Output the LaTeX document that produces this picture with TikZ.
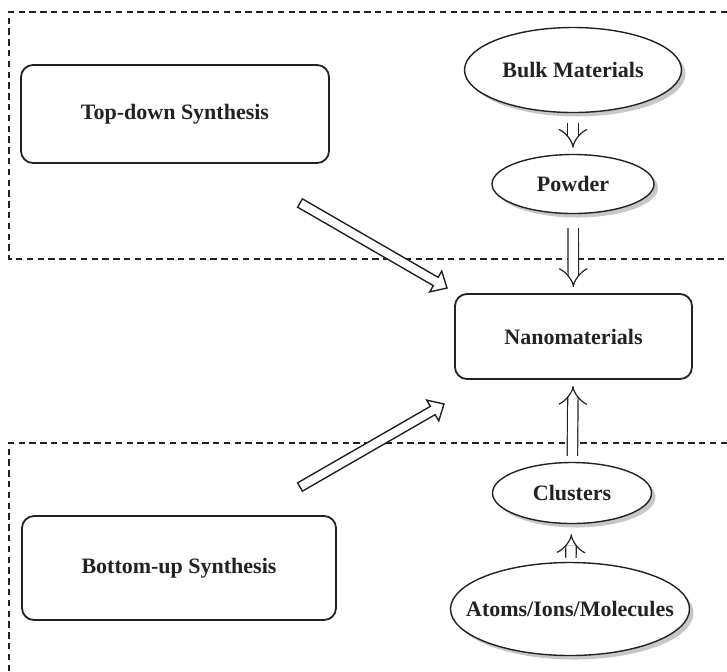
\documentclass[tikz,border=0pt]{standalone}
\usepackage{fontspec}
\setmainfont{Liberation Serif}
\usepackage{tikz}
\usetikzlibrary{arrows.meta, positioning, shapes.geometric, calc, shadows}
\definecolor{inkgray}{RGB}{34, 34, 34}

% hollow block arrow from #1 to #2
\newcommand{\blockarrow}[2]{%
  \coordinate (hb) at ($(#2)!6.5pt!(#1)$);
  \draw[block] ($(#1)!2.4pt!90:(#2)$) -- ($(hb)!2.4pt!-90:(#1)$)
    -- ($(hb)!6pt!-90:(#1)$) -- (#2) -- ($(hb)!6pt!90:(#1)$)
    -- ($(hb)!2.4pt!90:(#1)$) -- ($(#1)!2.4pt!-90:(#2)$) -- cycle;
}

\begin{document}
\begin{tikzpicture}[
  x=0.5pt, y=-0.5pt,
  every node/.style={font=\fontsize{11}{13}\selectfont\bfseries, text=inkgray},
  region/.style={draw=inkgray, line width=0.7pt, dash pattern=on 3.2pt off 2.2pt},
  box/.style={draw=inkgray, line width=0.9pt, rounded corners=6pt, inner sep=0pt},
  blob/.style={ellipse, draw=inkgray, line width=0.7pt, fill=white, inner sep=0pt,
    drop shadow={shadow xshift=2pt, shadow yshift=-2pt, fill=black!22, opacity=1}},
  dbl/.style={-{Implies}, double=white, double distance=4.6pt, line width=0.6pt, draw=inkgray},
  block/.style={draw=inkgray, line width=0.7pt, fill=white, line join=miter}
]
  \useasboundingbox (0,0) rectangle (727,671);

  % dashed regions
  \draw[region] (727,12) -- (9,12) -- (9,259) -- (727,259);
  \draw[region] (727,443) -- (9,443) -- (9,671);

  % boxes
  \node[box, minimum width=154pt, minimum height=49pt] (topdown) at (175,114) {Top-down Synthesis};
  \node[box, minimum width=157pt, minimum height=52pt] (bottomup) at (179,568) {Bottom-up Synthesis};
  \node[box, minimum width=118.5pt, minimum height=42.5pt] (nano) at (573.5,336.5) {Nanomaterials};

  % ellipses
  \node[blob, minimum width=108.5pt, minimum height=42.5pt] (bulk) at (573,70) {Bulk Materials};
  \node[blob, minimum width=81pt, minimum height=29.5pt] (powder) at (573,184) {Powder};
  \node[blob, minimum width=79.5pt, minimum height=30.5pt] (clusters) at (572,493) {Clusters};
  \node[blob, minimum width=119.5pt, minimum height=46.5pt] (atoms) at (570,609) {\makebox[0pt]{Atoms/Ions/Molecules}};

  % double arrows
  \draw[dbl, shorten <=5pt, shorten >=3pt] (bulk) -- (powder);
  \draw[dbl, shorten <=7pt, shorten >=3pt] (powder) -- (nano);
  \draw[dbl, shorten <=3pt, shorten >=3pt] (clusters) -- (nano);
  \draw[dbl, shorten <=2pt, shorten >=5pt] (atoms) -- (clusters);

  % block arrows
  \coordinate (tdtail) at (300,203);
  \coordinate (tdtip) at (447,288);
  \coordinate (butail) at (300,487);
  \coordinate (butip) at (444,404);
  \blockarrow{tdtail}{tdtip}
  \blockarrow{butail}{butip}
\end{tikzpicture}
\end{document}
